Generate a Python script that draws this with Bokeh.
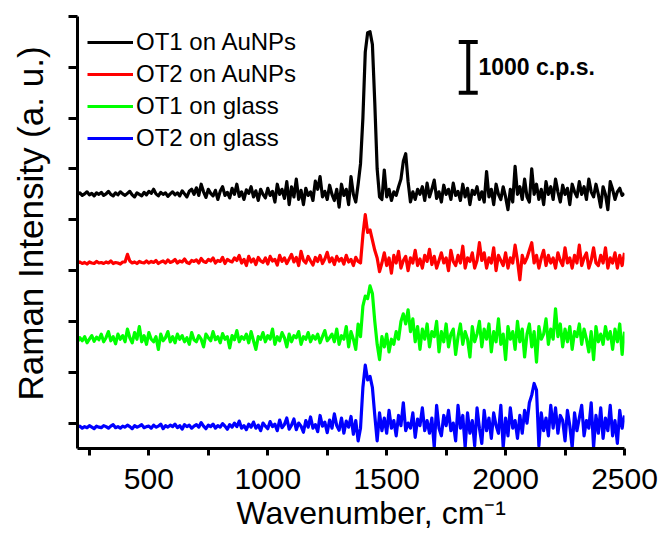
import math
from bokeh.plotting import figure
from bokeh.models import (Range1d, FixedTicker, Legend, LegendItem, Title,
                          CustomJSTickFormatter, LinearAxis)
from bokeh.core.properties import value
from bokeh.embed import file_html
from bokeh.resources import INLINE

FONT = "Liberation Sans"

# ---------------- data ----------------
WAVENUMBER = list(range(200, 2501, 10))  # sampling grid, cm^-1

OT1_AUNPS = [
    4500, 4530, 4480, 4510, 4550, 4490, 4520, 4470, 4530, 4500,
    4540, 4480, 4510, 4560, 4500, 4470, 4530, 4490, 4550, 4510,
    4480, 4520, 4560, 4490, 4450, 4530, 4500, 4470, 4540, 4490,
    4560, 4520, 4600, 4510, 4470, 4540, 4500, 4530, 4460, 4510,
    4550, 4490, 4530, 4470, 4570, 4510, 4450, 4560, 4600, 4500,
    4630, 4480, 4700, 4550, 4440, 4600, 4520, 4470, 4580, 4400,
    4560, 4650, 4480, 4540, 4430, 4620, 4500, 4700, 4460, 4550,
    4400, 4590, 4520, 4650, 4450, 4570, 4380, 4600, 4500, 4430,
    4620, 4480, 4560, 4350, 4700, 4500, 4600, 4420, 4750, 4300,
    4650, 4450, 4800, 4400, 4580, 4300, 4620, 4480, 4550, 4380,
    4760, 4600, 4850, 4450, 4560, 4400, 4680, 4500, 4380, 4600,
    4250, 4700, 4480, 4600, 4300, 4850, 4500, 4350, 4700, 5100,
    6000, 7300, 7680, 7700, 7450, 6300, 5000, 4450, 4400, 4980,
    4450, 4600, 4380, 4550, 4480, 4650, 4800, 5150, 5300, 4750,
    4350, 4550, 4400, 4600, 4500, 4650, 4380, 4720, 4450, 4600,
    4780, 4420, 4550, 4350, 4680, 4500, 4600, 4400, 4720, 4480,
    4560, 4380, 4700, 4450, 4620, 4300, 4580, 4500, 4650, 4400,
    4550, 4350, 4950, 4450, 4600, 4300, 4700, 4500, 4400, 4650,
    4450, 4200, 4600, 4350, 5050, 4500, 4650, 4400, 4800, 4450,
    4350, 5000, 4500, 4700, 4400, 4600, 4300, 4750, 4500, 4650,
    4400, 4800, 4550, 4350, 4680, 4500, 4620, 4300, 4700, 4550,
    4450, 4750, 4500, 4650, 4400, 4800, 4550, 4450, 4700, 4500,
    4250, 4650, 4500, 4200, 4750, 4600, 4400, 4550, 4620, 4480,
    4520,
]

OT2_AUNPS = [
    3150, 3170, 3140, 3160, 3130, 3170, 3150, 3140, 3180, 3150,
    3160, 3140, 3170, 3150, 3190, 3140, 3160, 3150, 3130, 3170,
    3170, 3320, 3190, 3150, 3170, 3140, 3180, 3160, 3150, 3190,
    3150, 3180, 3160, 3200, 3140, 3170, 3190, 3150, 3210, 3160,
    3180, 3220, 3150, 3190, 3170, 3230, 3160, 3140, 3200, 3180,
    3210, 3150, 3240, 3180, 3160, 3220, 3190, 3250, 3150, 3200,
    3180, 3260, 3140, 3220, 3190, 3170, 3250, 3200, 3300, 3150,
    3220, 3100, 3280, 3170, 3230, 3120, 3260, 3190, 3160, 3250,
    3130, 3280, 3190, 3220, 3110, 3300, 3180, 3250, 3140, 3230,
    3320, 3170, 3260, 3100, 3380, 3200, 3150, 3280, 3190, 3110,
    3260, 3180, 3300, 3140, 3230, 3360, 3170, 3250, 3120, 3280,
    3190, 3240, 3130, 3300, 3170, 3220, 3100, 3260, 3180, 3150,
    3700, 4100, 3750, 3800, 3600, 3400, 3250, 2980, 3150, 3350,
    3100, 3250, 2950, 3300, 3150, 3380, 3050, 3200, 3280, 3000,
    3250, 3150, 3400, 3100, 3230, 3050, 3300, 3180, 3420, 3120,
    3280, 3050, 3200, 3350, 3150, 3250, 3000, 3400, 3180, 3100,
    3300, 3150, 3480, 3050, 3250, 3180, 3350, 3050, 3200, 3550,
    3200, 3350, 3050, 3250, 3150, 3450, 3000, 3300, 3200, 3100,
    3350, 3050, 3250, 3150, 3500, 3200, 2820, 3300, 3150, 3250,
    3400, 3550, 3150, 3300, 3050, 3250, 3400, 3100, 3300, 3150,
    3250, 3050, 3350, 3200, 3100, 3450, 3150, 3250, 3050, 3300,
    3150, 3500, 3100, 3250, 3350, 3050, 3200, 3450, 3150, 3100,
    3300, 3150, 3450, 3050, 3250, 3150, 3350, 3050, 3300, 3100,
    3350,
]

OT1_GLASS = [
    1600, 1680, 1620, 1700, 1580, 1650, 1720, 1610, 1690, 1640,
    1750, 1600, 1680, 1800, 1620, 1700, 1560, 1750, 1650, 1720,
    1600, 1850, 1680, 1580, 1780, 1650, 1900, 1600, 1720, 1550,
    1780, 1650, 1600, 1700, 1450, 1750, 1620, 1680, 1800, 1600,
    1700, 1580, 1750, 1650, 1720, 1600, 1680, 1550, 1780, 1640,
    1600, 1720, 1650, 1500, 1750, 1680, 1620, 1800, 1640, 1700,
    1580, 1760, 1650, 1700, 1480, 1720, 1640, 1820, 1600, 1700,
    1650, 1750, 1580, 1800, 1620, 1450, 1700, 1650, 1780, 1600,
    1720, 1650, 1850, 1550, 1700, 1620, 1780, 1680, 1500, 1750,
    1600, 1720, 1680, 1800, 1550, 1700, 1650, 1780, 1600, 1720,
    1650, 1750, 1580, 1700, 1820, 1620, 1680, 1750, 1600, 1850,
    1550, 1720, 1650, 1900, 1500, 1800, 1650, 1450, 1950, 1700,
    2300, 2500, 2450, 2700, 2550, 2000, 1550, 1250, 1700, 1500,
    1750, 1400, 1650, 1550, 1800, 1650, 2000, 2150, 1950, 2230,
    1800, 2050, 1600, 1900, 1450, 1850, 1650, 1950, 1500, 1800,
    1700, 2000, 1400, 1800, 1600, 1950, 1500, 1750, 1850, 1350,
    1700, 1950, 1550, 1800, 1650, 1300, 1900, 1600, 1750, 2000,
    1500, 1850, 1650, 1950, 1400, 1800, 1600, 2050, 1550, 1750,
    1250, 1900, 1650, 1800, 1450, 2000, 1600, 1850, 1300, 1750,
    1950, 1500, 1800, 1200, 1900, 1650, 1750, 2050, 1550, 1850,
    1650, 2250, 1700, 1950, 1500, 1850, 1600, 1900, 1450, 1800,
    1700, 1950, 1550, 1850, 1650, 1400, 1800, 1250, 1900, 1600,
    1750, 1550, 1900, 1650, 1800, 1450, 1850, 1600, 1950, 1350,
    1800,
]

OT2_GLASS = [
    -80, -60, -100, -70, -90, -50, -80, -110, -60, -80,
    -90, -50, -70, -100, -60, -30, -90, -70, -100, -60,
    -80, -40, -70, -110, -50, -80, -60, -30, -90, -70,
    -60, -100, -40, -80, -60, -20, -110, -50, -80, -40,
    -70, -20, -90, -50, -120, -30, -70, -40, -100, -60,
    -30, -80, 10, -60, -110, -40, -70, -20, -100, -50,
    -80, -10, -60, -120, -30, -80, 0, -70, 40, -100,
    -50, -130, -20, -80, 20, -100, -40, -150, 0, -60,
    -110, 30, -70, -20, -150, 60, -90, -30, 100, -120,
    -40, 80, -130, 0, -60, -180, 50, -80, 120, -100,
    -30, -170, 150, -60, 20, -190, 60, -100, 180, -50,
    -140, 100, -200, 40, -80, 130, -220, 50, -350, -100,
    700, 1140, 850, 920, 700, 150, -350, 200, -150, 100,
    -200, 250, -100, 50, -250, 150, -50, 400, -150, 0,
    -100, 200, -280, 80, -50, 300, -150, 50, -200, 100,
    -480, 350, -100, -250, 150, -50, 250, -150, 0, -350,
    350, -100, 150, -480, 200, -200, 50, -450, 300, -100,
    -400, 250, -150, 100, -300, 200, -50, -200, 350, -480,
    100, -250, 300, -100, 50, -300, 150, -200, 250, 0,
    400, 550, 780, 650, -450, 200, -150, 100, -250, 350,
    -100, 300, -200, 150, 50, -350, 250, -50, -480, 200,
    -150, 100, 350, -250, 50, -100, 400, -480, 150, -200,
    300, -300, 100, -150, 350, -250, 50, -400, 250, -100,
    150,
]

SERIES_NAMES = ["OT1 on AuNPs", "OT2 on AuNPs", "OT1 on glass", "OT2 on glass"]
SERIES_VALUES = [OT1_AUNPS, OT2_AUNPS, OT1_GLASS, OT2_GLASS]
SERIES_COLORS = ["#000000", "#ff0000", "#00ff00", "#0000ff"]

X_TICKS = [500, 1000, 1500, 2000, 2500]
X_MINOR = [250, 750, 1250, 1750, 2250]
Y_TICKS = [0, 1000, 2000, 3000, 4000, 5000, 6000, 7000, 8000]

X_TITLE = "Wavenumber, cm\u207b\u00b9"
Y_TITLE = "Raman Intensity (a. u.)"

SCALE_BAR_LOW = 6500
SCALE_BAR_SIZE = 1000
SCALE_BAR_X = 1843
SCALE_BAR_TEXT = "1000 c.p.s."

for s in SERIES_VALUES:
    assert len(s) == len(WAVENUMBER), len(s)

# ---------------- layout ----------------
X0, X1 = 200, 2500
Y0, Y1 = -500, 8000
W, H = 665, 536
FL, FR, FT, FB = 77, 624, 16, 448   # frame edges in px

def px_x(px):
    return X0 + (px - FL) * (X1 - X0) / (FR - FL)

p = figure(width=W, height=H, x_range=Range1d(X0, X1), y_range=Range1d(Y0, Y1),
           output_backend="svg", toolbar_location=None,
           min_border_left=FL, min_border_right=W - FR,
           min_border_top=FT, min_border_bottom=H - FB)
p.outline_line_color = None
p.grid.visible = False
p.background_fill_color = "white"
p.border_fill_color = "white"

# axes
for ax in (p.xaxis[0], p.yaxis[0]):
    ax.axis_line_width = 3
    ax.axis_line_color = "black"
    ax.major_tick_line_width = 3
    ax.minor_tick_line_width = 3
    ax.major_tick_line_color = "black"
    ax.minor_tick_line_color = "black"
    ax.major_tick_in = 0
    ax.minor_tick_in = 0

p.xaxis.ticker = FixedTicker(ticks=X_TICKS, minor_ticks=X_MINOR)
p.xaxis.major_tick_out = 7
p.xaxis.minor_tick_out = 7
p.xaxis.major_label_text_font = FONT
p.xaxis.major_label_text_font_size = "30px"
p.xaxis.major_label_text_color = "black"
p.xaxis.major_label_standoff = 13

p.yaxis.ticker = FixedTicker(ticks=Y_TICKS, minor_ticks=[])
p.yaxis.major_tick_out = 9
p.yaxis.formatter = CustomJSTickFormatter(code="return ''")

# blank spacer axis that only pushes the y title away from the frame
spacer = LinearAxis(ticker=FixedTicker(ticks=Y_TICKS, minor_ticks=[]),
                    formatter=CustomJSTickFormatter(code="return ''"),
                    axis_line_color=None, major_tick_line_color=None,
                    minor_tick_line_color=None, major_tick_in=0,
                    major_tick_out=17, minor_tick_out=0)
p.add_layout(spacer, "left")

# spectra
renderers = []
for name, vals, col in zip(SERIES_NAMES, SERIES_VALUES, SERIES_COLORS):
    r = p.line(WAVENUMBER, vals, line_color=col, line_width=3.2, line_join="round")
    renderers.append(r)

legend = Legend(items=[LegendItem(label=n, renderers=[r]) for n, r in zip(SERIES_NAMES, renderers)],
                location="top_left")
legend.border_line_color = None
legend.background_fill_alpha = 0
legend.margin = 10
legend.padding = 10
legend.spacing = 0
legend.glyph_width = 46
legend.glyph_height = 32
legend.label_height = 32
legend.label_standoff = 3
legend.label_text_font = FONT
legend.label_text_font_size = "24px"
legend.label_text_color = "black"
p.add_layout(legend)

# scale bar
half = px_x(FL + 9.5) - X0
p.segment(x0=[SCALE_BAR_X, SCALE_BAR_X - half, SCALE_BAR_X - half],
          y0=[SCALE_BAR_LOW, SCALE_BAR_LOW, SCALE_BAR_LOW + SCALE_BAR_SIZE],
          x1=[SCALE_BAR_X, SCALE_BAR_X + half, SCALE_BAR_X + half],
          y1=[SCALE_BAR_LOW + SCALE_BAR_SIZE, SCALE_BAR_LOW, SCALE_BAR_LOW + SCALE_BAR_SIZE],
          line_color="black", line_width=4)
p.text(x=[px_x(478)], y=[SCALE_BAR_LOW + SCALE_BAR_SIZE / 2], text=[SCALE_BAR_TEXT],
       text_font=value(FONT), text_font_style="bold", text_font_size="23px",
       text_baseline="middle", text_align="left", text_color="black")

# axis titles
p.add_layout(Title(text=Y_TITLE, align="left", offset=48, vertical_align="bottom",
                   standoff=4, text_font=FONT, text_font_size="35px",
                   text_font_style="normal", text_color="black"), "left")
p.add_layout(Title(text=X_TITLE, align="left", offset=159, vertical_align="top",
                   standoff=6, text_font=FONT, text_font_size="32px",
                   text_font_style="normal", text_color="black"), "below")

open("out.html", "w").write(file_html(p, INLINE))
